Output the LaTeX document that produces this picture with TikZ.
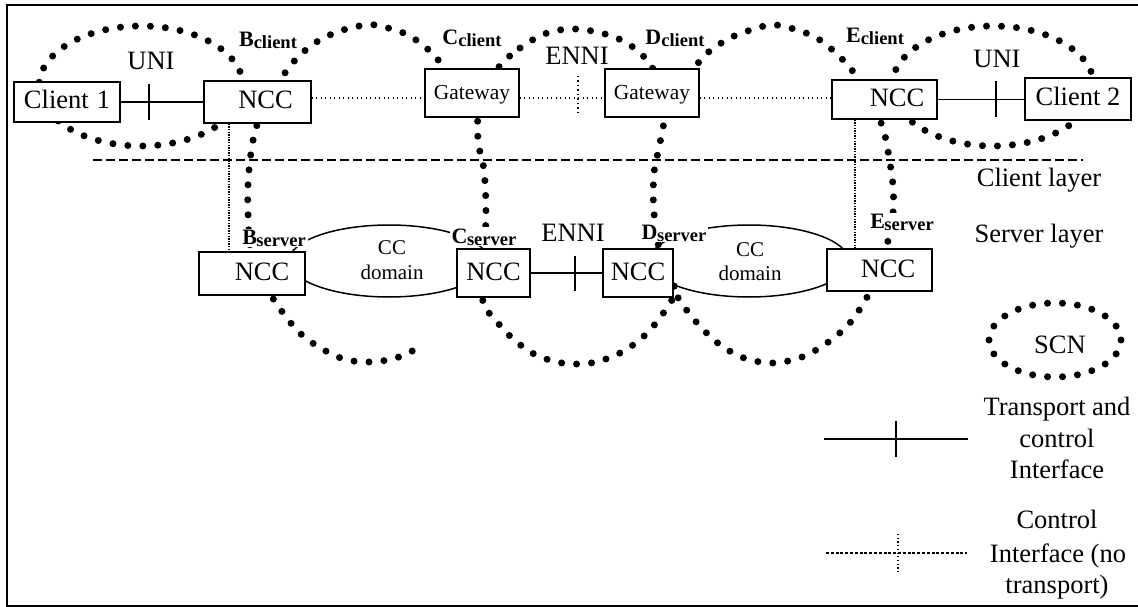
\documentclass[tikz,border=0pt]{standalone}
\usepackage{fontspec}
\setmainfont{Liberation Serif}
\newcommand{\sublab}[3]{\textbf{\fontsize{22}{22}\selectfont #2}\kern#1\raisebox{-2pt}{\textbf{\fontsize{18.5}{18.5}\selectfont #3}}}
\begin{document}
\begin{tikzpicture}[x=1pt,y=-1pt,
  font=\fontsize{26.5}{32}\selectfont,
  box/.style={draw, fill=white, line width=1.5pt, inner sep=0pt, text height=18pt, text depth=4pt},
  gwbox/.style={box, font=\fontsize{21.4}{25}\selectfont, text height=15pt, text depth=1pt},
  solidln/.style={line width=1.6pt},
  ctrl/.style={line width=1.2pt, dash pattern=on 1.2pt off 3.3pt},
  vdot/.style={line width=2pt, dash pattern=on 1.4pt off 1.2pt},
  layer/.style={line width=2pt, dash pattern=on 9pt off 4pt},
  scn/.style={line width=7pt, dash pattern=on 0pt off 15pt, line cap=round},
  ccdom/.style={line width=1.5pt},
  lbl/.style={fill=white, inner xsep=2pt, inner ysep=1pt, anchor=base},
  txt/.style={anchor=base, inner sep=0pt},
  smalltxt/.style={anchor=base, inner sep=0pt, font=\fontsize{21}{25}\selectfont}]
\useasboundingbox (0,0) rectangle (1138,607);
% frame
\draw[line width=2pt] (1150,5) -- (7,5) -- (7,606) -- (1150,606);

% CC domains
\draw[ccdom] (389,261) ellipse [x radius=100pt, y radius=36pt];
\draw[ccdom] (749,261) ellipse [x radius=100pt, y radius=36pt];

% SCN dotted loops
\draw[scn] (141,86) ellipse [x radius=102pt, y radius=60pt];
\draw[scn] (993,86) ellipse [x radius=101pt, y radius=60pt];
\draw[scn] (1055,340) ellipse [x radius=66pt, y radius=37pt];
\draw[scn] plot[smooth, tension=0.55] coordinates {(447,72) (432,53) (408,35) (380,26) (365,25) (337,32) (312,45) (290,66) (272,95) (256,128) (249,170) (248,213) (253,262) (274,300) (302,335) (338,357) (367,362) (396,358) (424,345)};
\draw[scn] plot[smooth cycle, tension=0.55] coordinates {(498,68) (520,48) (547,33) (575,29) (605,34) (630,45) (652,67) (665,105) (660,143) (654,173) (654,213) (662,262) (675,290) (662,315) (642,338) (618,354) (591,363) (562,363) (534,354) (511,337) (492,316) (483,303) (484,260) (486,213) (484,170) (478,140) (480,100)};
\draw[scn] plot[smooth, tension=0.55] coordinates {(690,75) (705,55) (730,38) (757,28) (772,25) (787,27) (815,37) (838,55) (857,77) (872,105) (883,128) (889,157) (893,186) (893,213) (887,245) (878,275) (866,299) (849,324) (827,343) (802,357) (773,363) (744,358) (719,344) (698,324) (680,301) (673,287)};

% layer separator
\coordinate (la) at (93,160);
\coordinate (lb) at (1083,160);
\draw[layer] (la) -- (lb);

% boxes
\node[box, minimum width=106pt, minimum height=40pt] (c1) at (67,102) {Client\hspace{8pt}1};
\node[box, minimum width=107pt, minimum height=42pt] (nccB) at (257.5,102) {\hspace*{16pt}NCC};
\node[gwbox, minimum width=94pt, minimum height=48pt] (gwC) at (472,93) {Gateway};
\node[gwbox, minimum width=94pt, minimum height=48pt] (gwD) at (652,93) {Gateway};
\node[box, minimum width=105pt, minimum height=39pt] (nccE) at (884.5,99.5) {\hspace*{25pt}NCC};
\node[box, minimum width=106pt, minimum height=42pt] (c2) at (1078,99) {Client 2};
\node[box, minimum width=106pt, minimum height=43pt] (nccBs) at (252,273.5) {\hspace*{20pt}NCC};
\node[box, minimum width=73pt, minimum height=48pt] (nccCs) at (493.5,273) {NCC};
\node[box, minimum width=70pt, minimum height=48pt] (nccDs) at (638,273) {NCC};
\node[box, minimum width=105pt, minimum height=42pt] (nccEs) at (879.5,270) {\hspace*{17pt}NCC};

% transport and control interfaces
\draw[solidln] (c1.east) -- (nccB.west);
\coordinate (tu1) at (149,102);
\draw[solidln] ([yshift=18pt]tu1) -- ([yshift=-18pt]tu1);
\draw[solidln] (nccE.east) -- (nccE.east -| c2.west);
\coordinate (tu2) at (996,99.5);
\draw[solidln] ([yshift=18pt]tu2) -- ([yshift=-18pt]tu2);
\draw[solidln] (nccCs.east) -- (nccDs.west);
\coordinate (te2) at (575,273);
\draw[solidln] ([yshift=17.5pt]te2) -- ([yshift=-17.5pt]te2);

% control interfaces (no transport)
\coordinate (yl) at (0,98);
\draw[ctrl] (nccB.east |- yl) -- (gwC.west |- yl);
\draw[ctrl] (gwC.east |- yl) -- (gwD.west |- yl);
\draw[ctrl] (gwD.east |- yl) -- (nccE.west |- yl);
\coordinate (te1) at (578,94.5);
\draw[ctrl] ([yshift=18.5pt]te1) -- ([yshift=-18.5pt]te1);
\coordinate (xb) at (229,0);
\coordinate (xe) at (855,0);
\draw[vdot] (nccB.south -| xb) -- (nccBs.north -| xb);
\draw[vdot] (nccE.south -| xe) -- (nccEs.north -| xe);

% CC domain texts
\node[smalltxt] (cc1a) at (392,254) {CC};
\node[smalltxt] (cc1b) at (392,279) {domain};
\node[smalltxt] (cc2a) at (750,256) {CC};
\node[smalltxt] (cc2b) at (750,280) {domain};

% SCN labels
\node[lbl] (Bc) at (268,47) {\sublab{0pt}{B}{client}};
\node[lbl] (Cc) at (472,45) {\sublab{0pt}{C}{client}};
\node[lbl] (Dc) at (675,45) {\sublab{0pt}{D}{client}};
\node[lbl] (Ec) at (875,43) {\sublab{0pt}{E}{client}};
\node[lbl] (Bs) at (274,244) {\sublab{-0.5pt}{B}{server}};
\node[lbl] (Cs) at (484,243) {\sublab{-0.5pt}{C}{server}};
\node[lbl] (Ds) at (674,239) {\sublab{-0.5pt}{D}{server}};
\node[lbl] (Es) at (902,228) {\sublab{-0.5pt}{E}{server}};

% interface names
\node[txt] (uni1) at (151,70) {UNI};
\node[txt] (uni2) at (997,68) {UNI};
\node[txt] (enni1) at (577,65) {ENNI};
\node[txt] (enni2) at (573,241) {ENNI};

% layers
\node[txt] (cl) at (1039,186) {Client layer};
\node[txt] (sl) at (1039,242) {Server layer};

% legend
\node[txt] (scnt) at (1060,353) {SCN};
\coordinate (lg1a) at (824,439);
\coordinate (lg1b) at (968,439);
\draw[solidln] (lg1a) -- (lg1b);
\coordinate (lg1t) at (896,439);
\draw[solidln] ([yshift=18pt]lg1t) -- ([yshift=-18pt]lg1t);
\node[txt] (lt1) at (1057,415) {Transport and};
\node[txt] (lt2) at (1057,447) {control};
\node[txt] (lt3) at (1057,478) {Interface};
\coordinate (lg2a) at (826,553);
\coordinate (lg2b) at (967,553);
\draw[line width=1.2pt, dash pattern=on 3pt off 1.8pt] (lg2a) -- (lg2b);
\coordinate (lg2t) at (898,553.5);
\draw[ctrl, dash pattern=on 1.2pt off 2.5pt] ([yshift=19.5pt]lg2t) -- ([yshift=-19.5pt]lg2t);
\node[txt] (lt4) at (1057,528) {Control};
\node[txt] (lt5) at (1058,562) {Interface (no};
\node[txt] (lt6) at (1057,593) {transport)};
\end{tikzpicture}
\end{document}
